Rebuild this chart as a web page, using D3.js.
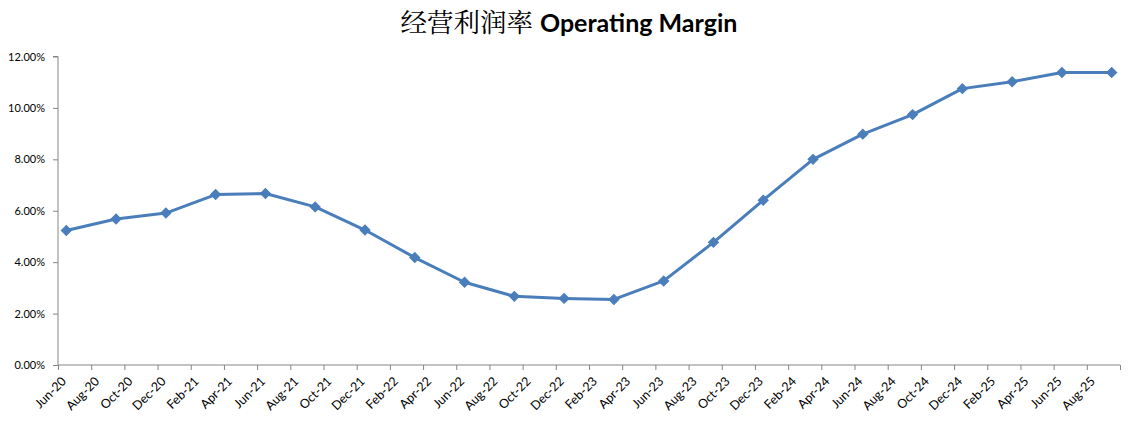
<!DOCTYPE html>
<html><head><meta charset="utf-8">
<script src="https://cdn.jsdelivr.net/npm/d3@7"></script>
<style>body{margin:0;background:#fff;} svg{display:block;}</style>
</head><body>
<svg id="c" width="1139" height="425"></svg>
<script>
const months = ["Jan","Feb","Mar","Apr","May","Jun","Jul","Aug","Sep","Oct","Nov","Dec"];
const periods = ["2020-06","2020-09","2020-12","2021-03","2021-06","2021-09","2021-12","2022-03","2022-06","2022-09","2022-12","2023-03","2023-06","2023-09","2023-12","2024-03","2024-06","2024-09","2024-12","2025-03","2025-06","2025-09"];
const margin = [5.23,5.68,5.91,6.63,6.67,6.15,5.25,4.18,3.22,2.67,2.59,2.55,3.27,4.77,6.41,8.00,8.98,9.74,10.75,11.02,11.38,11.38];
const yTicks = [0,2,4,6,8,10,12];
const startYear = 2020, startMonth = 6, totalMonths = 64;

const svg = d3.select("#c");
const L = 58, R = 1120, T = 56.5, B = 365;
const monthIdx = p => { const [y,m] = p.split("-").map(Number); return (y-startYear)*12 + (m-startMonth); };
const x = d3.scaleLinear().domain([0,totalMonths]).range([L,R]);
const y = d3.scaleLinear().domain([0,12]).range([B,T]);
const axisColor = "#868686";
const font = "Lato, 'Open Sans', sans-serif";

// title
const title = svg.append("text").attr("x",569).attr("y",32).attr("text-anchor","middle").attr("fill","#000");
title.append("tspan").attr("font-family","'Noto Serif CJK SC','Noto Sans CJK SC',serif").attr("font-size",26.5).text("经营利润率 ");
title.append("tspan").attr("font-family",font).attr("font-weight","bold").attr("font-size",25).text("Operating Margin");

// y axis
const yAxis = d3.axisLeft(y).tickValues(yTicks).tickSize(5).tickFormat(d=>d.toFixed(2)+"%");
const gy = svg.append("g").attr("transform",`translate(${L},0)`).call(yAxis);
gy.select(".domain").attr("stroke",axisColor).attr("d",`M-5,${T}H0V${B}`);
gy.selectAll(".tick line").attr("stroke",axisColor);
gy.selectAll(".tick text").attr("font-family",font).attr("font-size",11).attr("fill","#000").attr("x",-13);

// x axis
const tickIdx = d3.range(0,totalMonths+1,2);
const xAxis = d3.axisBottom(x).tickValues(tickIdx).tickSize(5).tickFormat(()=>"");
const gx = svg.append("g").attr("transform",`translate(0,${B})`).call(xAxis);
gx.select(".domain").attr("stroke",axisColor).attr("d",`M${L},0H${R}`);
gx.selectAll(".tick line").attr("stroke",axisColor);
const labelIdx = tickIdx.filter(i=>i<totalMonths);
svg.append("g").selectAll("text").data(labelIdx).join("text")
  .attr("transform",i=>`translate(${x(i)+9},${B+17}) rotate(-45)`)
  .attr("text-anchor","end").attr("font-family",font).attr("font-size",12.5).attr("fill","#000")
  .text(i=>{ const m=(startMonth-1+i)%12; const yr=startYear+Math.floor((startMonth-1+i)/12); return months[m]+"-"+String(yr).slice(2); });

// line
const pts = periods.map((p,i)=>({x:x(monthIdx(p)+0.5), y:y(margin[i])}));
svg.append("path").datum(pts).attr("fill","none").attr("stroke","#4A7EBB").attr("stroke-width",3)
  .attr("stroke-linejoin","round").attr("d",d3.line().x(d=>d.x).y(d=>d.y));
svg.append("g").selectAll("path").data(pts).join("path")
  .attr("transform",d=>`translate(${d.x},${d.y}) rotate(45)`)
  .attr("d",d3.symbol(d3.symbolSquare,50)()).attr("fill","#4A7EBB").attr("stroke","#4A7EBB").attr("stroke-width",1);
</script>
</body></html>
